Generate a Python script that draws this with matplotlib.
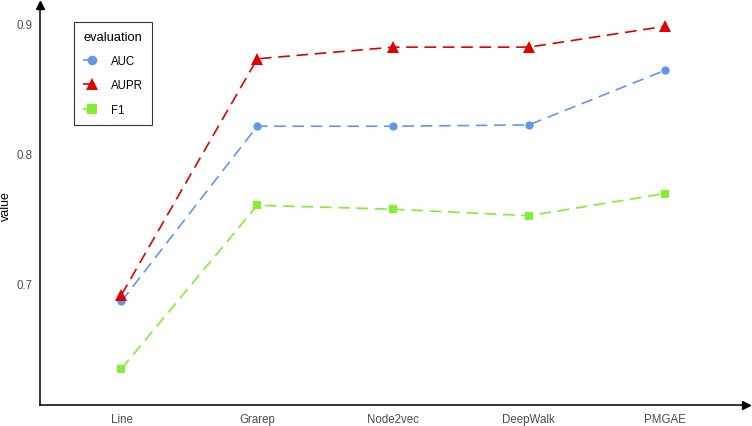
import numpy as np
import matplotlib.pyplot as plt

plt.rcParams['font.family'] = ['Liberation Sans', 'DejaVu Sans']

# data
methods = ['Line', 'Grarep', 'Node2vec', 'DeepWalk', 'PMGAE']
auc = [0.686, 0.821, 0.821, 0.822, 0.864]
aupr = [0.691, 0.873, 0.882, 0.882, 0.898]
f1 = [0.634, 0.760, 0.757, 0.752, 0.769]
yticks = [0.7, 0.8, 0.9]

fig = plt.figure(figsize=(7.52, 4.27), dpi=100)
ax = fig.add_axes([40/752, 21/427, 706/752, 400/427])

x = np.arange(len(methods))
dash = (0, (7, 4))
ax.plot(x, auc, color='#6495ed', ls=dash, lw=1.2, marker='o', ms=6, mew=0, label='AUC')
ax.plot(x, aupr, color='#e00000', ls=dash, lw=1.2, marker='^', ms=8, mew=0, label='AUPR')
ax.plot(x, f1, color='#80f030', ls=dash, lw=1.2, marker='s', ms=6, mew=0, label='F1')

ax.set_xlim(-0.6, 4.6)
ax.set_ylim(0.606, 0.9145)
ax.set_xticks(x)
ax.set_xticklabels(methods)
ax.set_yticks(yticks)
ax.set_yticklabels([str(v) for v in yticks])
ax.tick_params(length=0, labelsize=8.3, colors='#4d4d4d', pad=5.5)
ax.set_ylabel('value', fontsize=9, labelpad=3)

for s in ['top', 'right']:
    ax.spines[s].set_visible(False)
for s in ['left', 'bottom']:
    ax.spines[s].set_linewidth(1.1)

# arrow heads on the axes
ax.plot(1, 0, '>k', ms=6, transform=ax.transAxes, clip_on=False)
ax.plot(0, 1, '^k', ms=6, transform=ax.transAxes, clip_on=False)

leg = ax.legend(title='evaluation', loc='upper left', bbox_to_anchor=(0.048, 0.9575),
                borderaxespad=0, fontsize=8.3, title_fontsize=9.3, frameon=True,
                fancybox=False, edgecolor='black', handlelength=1.5, handletextpad=0.9,
                borderpad=0.8, labelspacing=1.05, markerscale=1.15)
leg.get_frame().set_linewidth(0.8)
leg._legend_box.align = 'left'

fig.savefig('out.png', dpi=100)
